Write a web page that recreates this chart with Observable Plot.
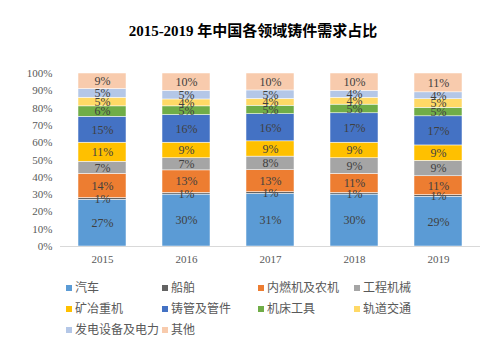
<!DOCTYPE html>
<html><head><meta charset="utf-8">
<script src="https://cdn.jsdelivr.net/npm/d3@7"></script>
<script src="https://cdn.jsdelivr.net/npm/@observablehq/plot@0.6"></script>
<style>
body{margin:0;background:#fff;width:486px;height:349px;overflow:hidden;position:relative}
#title{position:absolute;left:0;top:0;width:486px;height:50px;text-align:center;line-height:62px;font-weight:bold;font-size:15px;font-family:"Liberation Serif","Noto Sans CJK SC",serif;color:#000;padding-left:20px;box-sizing:border-box}
#chart{position:absolute;left:0;top:50px}
#legend{position:absolute;left:0;top:280px;width:486px}
.li{position:absolute;font-family:"Noto Sans CJK SC",sans-serif;font-size:12px;color:#595959;white-space:nowrap;line-height:14px}
.li span.m{display:inline-block;width:6px;height:6px;margin-right:3px;vertical-align:1px}
</style></head><body>
<div id="title">2015-2019 年中国各领域铸件需求占比</div>
<div id="chart"></div>
<div id="legend"></div>
<script>
const years = ["2015","2016","2017","2018","2019"];
const categories = ["汽车","船舶","内燃机及农机","工程机械","矿冶重机","铸管及管件","机床工具","轨道交通","发电设备及电力","其他"];
const colors = ["#5B9BD5","#636363","#ED7D31","#A5A5A5","#FFC000","#4472C4","#70AD47","#FFD966","#B4C7E7","#F8CBAD"];
const s汽车 = [27,30,31,30,29];
const s船舶 = [1,1,1,1,1];
const s内燃机及农机 = [14,13,13,11,11];
const s工程机械 = [7,7,8,9,9];
const s矿冶重机 = [11,9,9,9,9];
const s铸管及管件 = [15,16,16,17,17];
const s机床工具 = [6,5,5,5,5];
const s轨道交通 = [5,4,4,4,5];
const s发电设备及电力 = [5,5,5,4,4];
const s其他 = [9,10,10,10,11];
const yTicks = [0,0.1,0.2,0.3,0.4,0.5,0.6,0.7,0.8,0.9,1];

const series = [s汽车,s船舶,s内燃机及农机,s工程机械,s矿冶重机,s铸管及管件,s机床工具,s轨道交通,s发电设备及电力,s其他];
const data = [];
categories.forEach((c,i)=>years.forEach((y,j)=>data.push({year:y,cat:c,value:series[i][j]})));

const stackOpts = {x:"year", y:"value", z:"cat", order:categories, offset:"normalize"};
const chart = Plot.plot({
  width:486, height:230,
  marginTop:23, marginBottom:34, marginLeft:60, marginRight:6,
  style:{fontFamily:"'Liberation Serif',serif", background:"#fff"},
  x:{domain:years, paddingInner:0.43, paddingOuter:0.215, label:null},
  y:{domain:[0,1], label:null},
  color:{domain:categories, range:colors},
  marks:[
    Plot.barY(data, Plot.stackY({...stackOpts, fill:"cat", stroke:"#fff", strokeWidth:0.5})),
    Plot.text(data, Plot.stackY({...stackOpts, text:d=>d.value+"%", fill:"#404040", fontSize:12})),
    Plot.ruleY([0], {stroke:"#d9d9d9"}),
    Plot.axisX({tickSize:0, tickPadding:9, fontSize:11, fill:"#595959", label:null}),
    Plot.axisY({ticks:yTicks, tickFormat:d=>Math.round(d*100)+"%", tickSize:0, tickPadding:8, fontSize:11, fill:"#595959", label:null})
  ]
});
document.getElementById("chart").appendChild(chart);

const leg = document.getElementById("legend");
const colX = [66,162,258,354];
categories.forEach((c,i)=>{
  const d = document.createElement("div");
  d.className="li";
  d.style.left = colX[i%4]+"px";
  d.style.top = (Math.floor(i/4)*21)+"px";
  d.innerHTML = `<span class="m" style="background:${colors[i]}"></span>${c}`;
  leg.appendChild(d);
});
</script>
</body></html>
